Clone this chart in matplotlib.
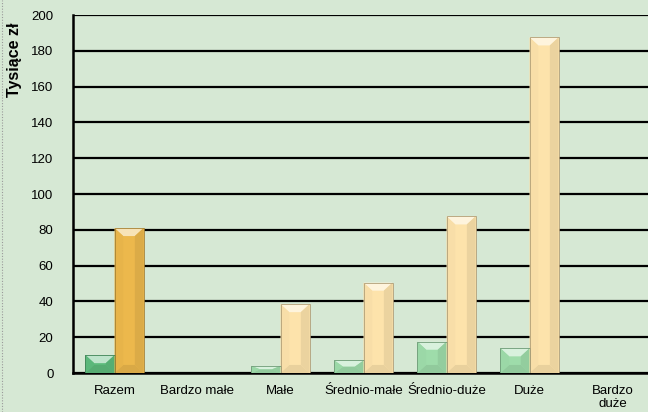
import numpy as np
import matplotlib
matplotlib.use('Agg')
import matplotlib.pyplot as plt
from matplotlib.patches import Polygon
from matplotlib.lines import Line2D

# data (thousand zloty)
categories = ['Razem', 'Bardzo małe', 'Małe', 'Średnio-małe', 'Średnio-duże', 'Duże', 'Bardzo\nduże']
green_vals = [10, 0, 4, 7, 17.5, 13.8, 0]
yellow_vals = [81, 0, 38.5, 50.5, 87.5, 187.5, 0]
yticks = list(range(0, 201, 20))

green_cols = ['#5dbb7c', '#9edcaa', '#9edcaa', '#9edcaa', '#9edcaa', '#9edcaa', '#9edcaa']
yellow_cols = ['#ecb84c', '#fde3ab', '#fde3ab', '#fde3ab', '#fde3ab', '#fde3ab', '#fde3ab']

plt.rcParams['font.family'] = ['Liberation Sans', 'DejaVu Sans']

bg = '#d6e8d4'
fig = plt.figure(figsize=(6.48, 4.12), dpi=100, facecolor=bg)
ax = fig.add_axes([73/648, 39/412, 1 - 73/648, 358/412], facecolor=bg)

x = np.arange(len(categories))
w = 0.35


def shade(c, f):
    rgb = np.array(matplotlib.colors.to_rgb(c))
    if f > 1:
        return tuple(np.clip(rgb + (1 - rgb) * (f - 1), 0, 1))
    return tuple(rgb * f)


def bevel(bars, cols):
    # fake the excel bevel look from each bar's own geometry
    for b, c in zip(bars, cols):
        h = b.get_height()
        if h <= 0:
            continue
        x0, x1 = b.get_x(), b.get_x() + b.get_width()
        bx = b.get_width() * 0.3
        by = min(4.5, h / 2)
        parts = [
            ([(x0, h), (x1, h), (x1 - bx, h - by), (x0 + bx, h - by)], shade(c, 1.6)),
            ([(x0, 0), (x1, 0), (x1 - bx, by), (x0 + bx, by)], shade(c, 0.92)),
            ([(x0, 0), (x0, h), (x0 + bx, h - by), (x0 + bx, by)], shade(c, 0.98)),
            ([(x1, 0), (x1, h), (x1 - bx, h - by), (x1 - bx, by)], shade(c, 0.93)),
        ]
        for pts, fc in parts:
            ax.add_patch(Polygon(pts, closed=True, fc=fc, ec='none', zorder=4))
        # outline on top of the bevel
        ax.add_patch(plt.Rectangle((x0, 0), x1 - x0, h, fc='none',
                                   ec=shade(c, 0.7), lw=0.6, zorder=5))


gb = ax.bar(x - w/2, green_vals, w, color=green_cols, edgecolor='none', zorder=3)
yb = ax.bar(x + w/2, yellow_vals, w, color=yellow_cols, edgecolor='none', zorder=3)
bevel(gb, green_cols)
bevel(yb, yellow_cols)

ax.set_ylim(0, 200)
ax.set_xlim(-0.5, -0.5 + 575/83)
ax.set_yticks(yticks)
ax.yaxis.grid(True, color='black', linewidth=1.6, zorder=0)
ax.set_axisbelow(True)
ax.set_xticks(x)
ax.set_xticklabels(categories, fontsize=9.5, linespacing=1.1)
ax.tick_params(axis='x', length=0, pad=9)
ax.tick_params(axis='y', length=0, pad=14, labelsize=9.5)
for s in ['top', 'right']:
    ax.spines[s].set_visible(False)
ax.spines['left'].set_linewidth(1.8)
ax.spines['bottom'].set_linewidth(1.8)

fig.text(15/648, 1 - 60/412, 'Tysiące zł', rotation=90, ha='center', va='center',
         fontsize=11.5, fontweight='bold')

# dotted border at the left edge
fig.add_artist(Line2D([2/648, 2/648], [0, 1], color='#9a9a9a', linestyle=(0, (1, 1.5)), linewidth=0.8))

fig.savefig('out.png', dpi=100, facecolor=bg)
